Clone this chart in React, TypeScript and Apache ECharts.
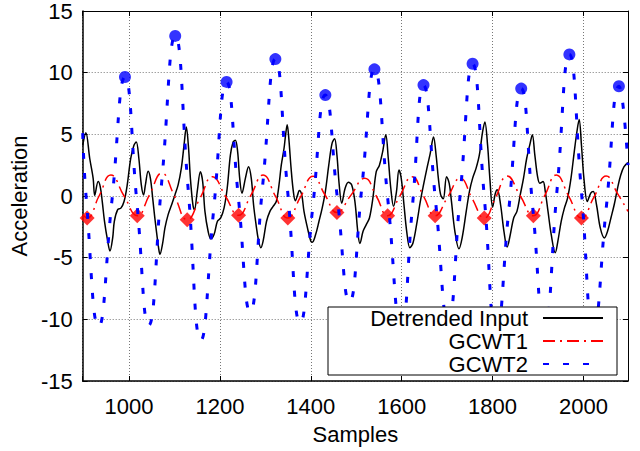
import React, { useEffect, useRef } from 'react';
import * as echarts from 'echarts';

// ---- data ----
const xRange = [898, 2098];
const yRange = [-15, 15];

const detrendedInput: number[][] = [
  [898, 4.1], [905, 5.13], [913.5, 3.04], [921, 1.43], [924.5, 0.05], [932, 1.17], [936.6, 0.76], [941, -0.44],
  [946, -2.05], [953, -3.66], [958, -4.46], [964, -3.39], [967.6, -2.05], [975, -1.11], [982, -0.98], [989, -0.44],
  [996, 0.9], [1003.6, 3.04], [1010.8, 4.12], [1015.9, 4.38], [1021.6, 3.04], [1027, 0.9], [1032, 0.09], [1036, 0.9],
  [1042, 2.0], [1047, 1.43], [1052, -0.17], [1057.6, -2.05], [1065, -4.2], [1068, -4.73], [1073.5, -3.93], [1079, -2.59],
  [1086, -1.51], [1093.7, -0.71], [1101, 0.09], [1108, 0.9], [1115, 2.24], [1121, 4.12], [1126, 5.59], [1131, 3.85],
  [1135, 1.43], [1140.5, -0.71], [1144, -1.11], [1150, 0.36], [1157, 1.97], [1162, 1.17], [1167, -1.25], [1174, -2.86],
  [1180, -3.47], [1187, -3.13], [1194.5, -2.05], [1201.7, -1.78], [1209, -0.98], [1216, 0.63], [1223, 3.31], [1229, 4.38],
  [1234, 4.52], [1239, 3.58], [1243.5, 1.43], [1248.5, 0.23], [1256, 1.43], [1263, 2.37], [1269, 1.43], [1274, -0.71],
  [1279.5, -2.32], [1284.5, -3.53], [1290, -4.2], [1295, -3.66], [1302.6, -2.05], [1310, -1.25], [1317, -0.84], [1324, -0.44],
  [1330, 0.9], [1335, 2.5], [1341, 3.85], [1344.4, 4.92], [1348, 5.78], [1351.6, 4.65], [1356.6, 2.24], [1361.6, 0.36],
  [1366, -0.39], [1371, 0.09], [1374.6, 0.44], [1380, 0.09], [1385, -1.25], [1392.6, -2.59], [1400, -3.66], [1403.4, -3.74],
  [1410.6, -3.12], [1418, -2.05], [1425, -0.98], [1432, 0.36], [1439.5, 2.5], [1446.6, 4.25], [1452.4, 4.65], [1457.5, 3.31],
  [1462.5, 0.9], [1468, -0.58], [1475.5, 0.63], [1482.7, 1.11], [1490, 0.9], [1497, -0.44], [1504, -3.12], [1508, -3.85],
  [1515, -2.86], [1522, -2.32], [1529, -1.78], [1536.6, -0.17], [1544, 1.97], [1551, 2.5], [1558, 3.58], [1565, 4.97],
  [1570.5, 3.04], [1576, 0.63], [1582, -0.84], [1588.5, 0.36], [1594, 2.1], [1599, 1.43], [1605, -0.71], [1611, -2.86],
  [1618, -4.2], [1625, -3.79], [1634, -2.05], [1641, -0.44], [1648, 0.9], [1655.5, 2.24], [1662.7, 3.44], [1670, 4.78],
  [1675.7, 3.31], [1680.7, 1.43], [1685.8, 0.09], [1691.5, -0.23], [1698.7, 1.57], [1704.5, 1.03], [1709.5, -0.44], [1717, -2.86],
  [1726, -4.28], [1733, -3.39], [1742, -1.25], [1749, 0.36], [1756, 1.43], [1763.6, 2.24], [1770.8, 3.31], [1778, 5.19],
  [1783, 6.0], [1789, 4.12], [1794, 1.43], [1800, -0.9], [1806, 0.2], [1810.5, 0.5], [1817.6, -0.71], [1825, -2.86],
  [1832, -4.14], [1839, -3.12], [1846.4, -1.78], [1853.6, -1.25], [1860.8, 0.09], [1868, 1.43], [1875, 3.04], [1882.5, 4.25],
  [1887.5, 4.97], [1893, 3.31], [1899, 1.57], [1904, 1.03], [1911, 1.17], [1916, 0.36], [1922, -1.25], [1929, -3.12],
  [1938, -4.6], [1943.7, -3.66], [1951, -2.05], [1958, -0.98], [1965, -0.17], [1972.5, 1.43], [1979.7, 3.58], [1985.5, 5.19],
  [1990.5, 6.2], [1995.6, 4.12], [2001, 1.43], [2008.5, -0.44], [2016, 0.23], [2021.5, 0.36], [2028.7, -0.71], [2037, -2.59],
  [2046, -3.4], [2053, -2.86], [2060.4, -1.78], [2067.6, -0.71], [2075, 0.63], [2082, 1.7], [2089, 2.37], [2098, 2.7],
];

const gcwt1: number[][] = [
  [898, -1.5], [907.8, -1.78], [934, 0], [960, 1.7], [989, 0], [1018, -1.6], [1045, 0.1], [1072, 1.84],
  [1100, 0], [1128, -1.92], [1156, -0.2], [1183.7, 1.57], [1212, 0], [1241, -1.57], [1268, 0.05], [1295, 1.7],
  [1322, 0], [1349.4, -1.78], [1377, -0.1], [1405, 1.6], [1431, 0.1], [1457.5, -1.33], [1488, 0.05], [1518.6, 1.43],
  [1544, 0], [1569, -1.6], [1596, 0], [1623, 1.57], [1648, 0], [1673.5, -1.6], [1701, -0.1], [1729, 1.43],
  [1755, -0.2], [1781.6, -1.78], [1807, -0.1], [1832, 1.62], [1861, 0], [1889.7, -1.6], [1915, 0.05], [1940, 1.7],
  [1968, -0.05], [1995.6, -1.78], [2023, -0.1], [2050, 1.62], [2075, 0.2], [2098, -1.25],
];

const gcwt1Minima: number[][] = [
  [907.8, -1.78], [1018, -1.6], [1128, -1.92], [1241, -1.57], [1349.4, -1.78], [1457.5, -1.33],
  [1569, -1.6], [1673.5, -1.6], [1781.6, -1.78], [1889.7, -1.6], [1995.6, -1.78],
];

const gcwt2: number[][] = [
  [898, 5.1], [906, -0.3], [933, -10.6], [962, -0.5], [991, 9.65], [1017, -0.4], [1043, -10.5], [1072, 1.2],
  [1101.6, 12.98], [1130, 0.6], [1158, -11.7], [1186, -1.2], [1214.6, 9.25], [1240.5, -0.1], [1266.5, -9.4], [1294, 0.85],
  [1322, 11.1], [1349, 0.4], [1376.7, -10.3], [1404, -1.0], [1432, 8.18], [1458.5, -0.2], [1485, -8.6], [1512.5, 0.8],
  [1540, 10.27], [1569.5, -0.3], [1599, -10.8], [1623.5, -0.9], [1648, 8.99], [1675, -0.6], [1702, -10.2], [1729, 0.25],
  [1756, 10.72], [1782, -0.2], [1808, -11.2], [1835.5, -1.2], [1863, 8.71], [1888.5, -1.0], [1914, -10.8], [1941.5, 0.35],
  [1969, 11.48], [1995.5, 0.35], [2022, -10.8], [2050, -1.0], [2078, 8.9], [2098, 2.5],
];

const gcwt2Maxima: number[][] = [
  [991, 9.65], [1101.6, 12.98], [1214.6, 9.25], [1322, 11.1], [1432, 8.18], [1540, 10.27],
  [1648, 8.99], [1756, 10.72], [1863, 8.71], [1969, 11.48], [2078, 8.9],
];

const seriesNames = ['Detrended Input', 'GCWT1', 'GCWT2'];

const FONT = '"Liberation Sans", Arial, Helvetica, sans-serif';
const FS = 22;

export default function App() {
  const ref = useRef<HTMLDivElement>(null);
  useEffect(() => {
    document.body.style.margin = '0';
    if (!ref.current) return;
    const chart = echarts.init(ref.current, undefined, { renderer: 'svg' });
    const gridLine = { show: true, lineStyle: { color: '#777', type: [1, 2] as any, width: 1 } };
    chart.setOption({
      animation: false,
      backgroundColor: '#fff',
      textStyle: { fontFamily: FONT },
      grid: { left: 73, right: 12, top: 8, bottom: 70, containLabel: false },
      legend: {
        data: seriesNames,
        orient: 'vertical',
        left: 328,
        top: 307,
        align: 'right',
        itemWidth: 60,
        itemHeight: 14,
        itemGap: 1,
        padding: [0, 13, 0, 13],
        backgroundColor: '#fff',
        borderColor: '#000',
        borderWidth: 1,
        borderRadius: 0,
        selectedMode: false,
        itemStyle: { opacity: 0, borderWidth: 0 },
        textStyle: {
          fontSize: FS, color: '#000', fontFamily: FONT,
          width: 187, align: 'right', lineHeight: 19, padding: [0, 10, 0, 0],
        },
        z: 10,
      },
      xAxis: [
        {
          type: 'value', min: xRange[0], max: xRange[1], splitNumber: 6,
          position: 'bottom',
          name: 'Samples', nameLocation: 'middle', nameGap: 42,
          nameTextStyle: { fontSize: FS, color: '#000', fontFamily: FONT },
          axisLine: { show: true, onZero: false, lineStyle: { color: '#000', width: 1.5 } },
          axisTick: { show: true, inside: true, length: 5, lineStyle: { color: '#000' } },
          axisLabel: {
            fontSize: FS, color: '#000', fontFamily: FONT, margin: 14,
            formatter: (v: number) => (Math.abs(Math.round(v) % 200) === 0 ? String(Math.round(v)) : ''),
          },
          splitLine: gridLine,
        },
        {
          type: 'value', min: xRange[0], max: xRange[1], splitNumber: 6,
          position: 'top',
          axisLine: { show: true, onZero: false, lineStyle: { color: '#000', width: 1 } },
          axisTick: { show: true, inside: true, length: 5, lineStyle: { color: '#000' } },
          axisLabel: { show: false },
          splitLine: { show: false },
        },
      ],
      yAxis: [
        {
          type: 'value', min: yRange[0], max: yRange[1], interval: 5,
          position: 'left',
          name: 'Acceleration', nameLocation: 'middle', nameGap: 38,
          nameTextStyle: { fontSize: FS, color: '#000', fontFamily: FONT },
          axisLine: { show: true, onZero: false, lineStyle: { color: '#000', width: 1.5 } },
          axisTick: { show: true, inside: true, length: 5, lineStyle: { color: '#000' } },
          axisLabel: { fontSize: FS, color: '#000', fontFamily: FONT, margin: 10 },
          splitLine: gridLine,
        },
        {
          type: 'value', min: yRange[0], max: yRange[1], interval: 5,
          position: 'right',
          axisLine: { show: true, onZero: false, lineStyle: { color: '#000', width: 1 } },
          axisTick: { show: true, inside: true, length: 5, lineStyle: { color: '#000' } },
          axisLabel: { show: false },
          splitLine: { show: false },
        },
      ],
      series: [
        {
          name: 'Detrended Input', type: 'line', data: detrendedInput,
          xAxisIndex: 0, yAxisIndex: 0,
          symbol: 'none', showSymbol: false, smooth: 0.35,
          lineStyle: { color: '#000', width: 1.5 },
          itemStyle: { color: '#000' },
          z: 2,
        },
        {
          name: 'GCWT1', type: 'line', data: gcwt1,
          xAxisIndex: 0, yAxisIndex: 0,
          symbol: 'none', showSymbol: false, smooth: 0.5,
          lineStyle: { color: '#ff0000', width: 1.5, type: [12, 5, 2, 5] },
          itemStyle: { color: '#ff0000' },
          z: 3,
        },
        {
          name: 'GCWT1 minima', type: 'scatter', data: gcwt1Minima,
          xAxisIndex: 0, yAxisIndex: 0,
          symbol: 'diamond', symbolSize: 15,
          itemStyle: { color: '#ff0000' },
          z: 4,
        },
        {
          name: 'GCWT2', type: 'line', data: gcwt2,
          xAxisIndex: 0, yAxisIndex: 0,
          symbol: 'none', showSymbol: false, smooth: 0.5,
          lineStyle: { color: '#0000ff', width: 3, type: [6, 14] },
          itemStyle: { color: '#0000ff' },
          z: 5,
        },
        {
          name: 'GCWT2 maxima', type: 'scatter', data: gcwt2Maxima,
          xAxisIndex: 0, yAxisIndex: 0,
          symbol: 'circle', symbolSize: 12,
          itemStyle: { color: '#0000ff' },
          z: 6,
        },
      ],
    });
    return () => chart.dispose();
  }, []);
  return <div ref={ref} style={{ width: 640, height: 451 }} />;
}
